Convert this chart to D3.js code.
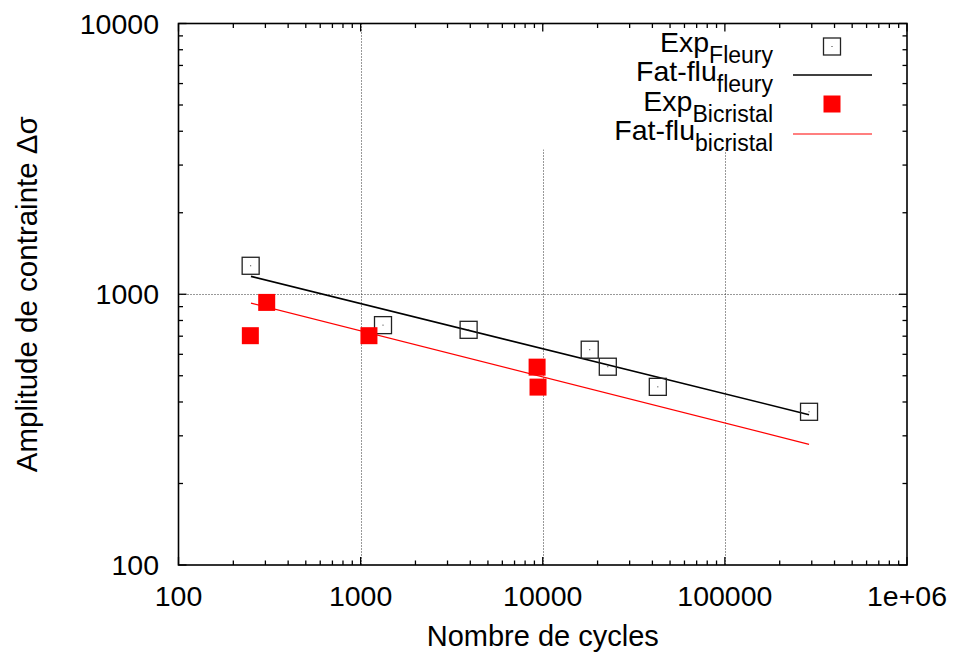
<!DOCTYPE html>
<html><head><meta charset="utf-8">
<script src="https://cdn.jsdelivr.net/npm/d3@7"></script>
<style>body{margin:0;background:#fff;} svg{display:block;font-family:"Liberation Sans",Arial,Helvetica,sans-serif;}</style>
</head><body>
<svg id="c" width="956" height="656"></svg>
<script>
// ---- data ----
const fleuryN = [249, 1327, 3917, 18110, 22760, 42830, 289800];
const fleuryS = [1274, 769, 739, 624, 540, 455, 368];
const bicN = [248, 305, 1111, 9310, 9420];
const bicS = [703, 933, 703, 538, 454];
const fitFleuryN = [250, 289800];
const fitFleuryS = [1164, 359];
const fitBicN = [250, 289800];
const fitBicS = [928, 279];
const xTickValues = [100, 1000, 10000, 100000, 1000000];
const xTickLabels = ["100", "1000", "10000", "100000", "1e+06"];
const yTickValues = [100, 1000, 10000];
const yTickLabels = ["100", "1000", "10000"];
const legendMain = ["Exp", "Fat-flu", "Exp", "Fat-flu"];
const legendSub = ["Fleury", "fleury", "Bicristal", "bicristal"];
const xTitle = "Nombre de cycles";
const yTitle = "Amplitude de contrainte \u0394\u03c3";

// ---- layout ----
const L = 178.5, R = 907, T = 23.5, B = 565;
const svg = d3.select("#c");
const x = d3.scaleLog().domain([100, 1e6]).range([L, R]);
const y = d3.scaleLog().domain([100, 1e4]).range([B, T]);

// grid (dotted)
const grid = svg.append("g").attr("stroke", "#333").attr("stroke-width", 1).attr("stroke-dasharray", "1,2");
[1000, 10000, 100000].forEach(v => grid.append("line").attr("x1", Math.round(x(v)) + 0.5).attr("x2", Math.round(x(v)) + 0.5).attr("y1", T).attr("y2", B));
[1000].forEach(v => grid.append("line").attr("x1", L).attr("x2", R).attr("y1", Math.round(y(v)) + 0.5).attr("y2", Math.round(y(v)) + 0.5));

// legend background covering grid
svg.append("rect").attr("x", 530).attr("y", T + 1).attr("width", R - 531).attr("height", 125).attr("fill", "#fff");

// ticks (inward, mirrored)
const tk = svg.append("g").attr("stroke", "#000").attr("stroke-width", 1.3);
const isMajor = v => Math.abs(Math.log10(v) - Math.round(Math.log10(v))) < 1e-9;
x.ticks().forEach(v => {
  const len = isMajor(v) ? 8 : 4.5, px = x(v);
  tk.append("line").attr("x1", px).attr("x2", px).attr("y1", B).attr("y2", B - len);
  tk.append("line").attr("x1", px).attr("x2", px).attr("y1", T).attr("y2", T + len);
});
y.ticks().forEach(v => {
  const len = isMajor(v) ? 8 : 4.5, py = y(v);
  tk.append("line").attr("x1", L).attr("x2", L + len).attr("y1", py).attr("y2", py);
  tk.append("line").attr("x1", R).attr("x2", R - len).attr("y1", py).attr("y2", py);
});

// frame
svg.append("rect").attr("x", L).attr("y", T).attr("width", R - L).attr("height", B - T)
  .attr("fill", "none").attr("stroke", "#000").attr("stroke-width", 1.6);

// tick labels
svg.append("g").selectAll("text").data(xTickValues).join("text")
  .attr("x", d => x(d)).attr("y", 606).attr("text-anchor", "middle")
  .attr("font-size", 28.5).text((d, i) => xTickLabels[i]);
svg.append("g").selectAll("text").data(yTickValues).join("text")
  .attr("x", 159).attr("y", d => y(d) + 10).attr("text-anchor", "end")
  .attr("font-size", 28.5).text((d, i) => yTickLabels[i]);

// axis titles
svg.append("text").attr("x", (L + R) / 2).attr("y", 646).attr("text-anchor", "middle").attr("font-size", 29).text(xTitle);
svg.append("text").attr("transform", `translate(37,${(T + B) / 2}) rotate(-90)`).attr("text-anchor", "middle").attr("font-size", 29.5).text(yTitle);

// fit lines
const line = d3.line().x(d => x(d[0])).y(d => y(d[1]));
svg.append("path").datum(fitFleuryN.map((n, i) => [n, fitFleuryS[i]])).attr("d", line)
  .attr("fill", "none").attr("stroke", "#000").attr("stroke-width", 1.6);
svg.append("path").datum(fitBicN.map((n, i) => [n, fitBicS[i]])).attr("d", line)
  .attr("fill", "none").attr("stroke", "#ff0000").attr("stroke-width", 1.3);

// markers
const S = 17;
const fl = svg.append("g");
fleuryN.forEach((n, i) => {
  const cx = x(n), cy = y(fleuryS[i]);
  fl.append("rect").attr("x", cx - S / 2).attr("y", cy - S / 2).attr("width", S).attr("height", S)
    .attr("fill", "none").attr("stroke", "#222").attr("stroke-width", 1.3);
  fl.append("rect").attr("x", cx - 0.5).attr("y", cy - 0.5).attr("width", 1).attr("height", 1).attr("fill", "#333");
});
svg.append("g").selectAll("rect").data(bicN).join("rect")
  .attr("x", d => x(d) - S / 2).attr("y", (d, i) => y(bicS[i]) - S / 2)
  .attr("width", S).attr("height", S).attr("fill", "#ff0000");

// legend
const baselines = [52, 81, 111, 140];
const lg = svg.append("g");
legendMain.forEach((m, i) => {
  const t = lg.append("text").attr("x", 773).attr("y", baselines[i]).attr("text-anchor", "end").attr("font-size", 28.5);
  t.append("tspan").text(m);
  t.append("tspan").attr("font-size", 23).attr("dy", 11).text(legendSub[i]);
});
lg.append("rect").attr("x", 832 - S / 2).attr("y", 46.5 - S / 2).attr("width", S).attr("height", S)
  .attr("fill", "none").attr("stroke", "#222").attr("stroke-width", 1.3);
lg.append("rect").attr("x", 831.5).attr("y", 46).attr("width", 1).attr("height", 1).attr("fill", "#333");
lg.append("line").attr("x1", 793).attr("x2", 872).attr("y1", 75).attr("y2", 75).attr("stroke", "#000").attr("stroke-width", 1.5);
lg.append("rect").attr("x", 832 - S / 2).attr("y", 104 - S / 2).attr("width", S).attr("height", S).attr("fill", "#ff0000");
lg.append("line").attr("x1", 793).attr("x2", 872).attr("y1", 134).attr("y2", 134).attr("stroke", "#ff0000").attr("stroke-width", 1.2);
</script>
</body></html>
